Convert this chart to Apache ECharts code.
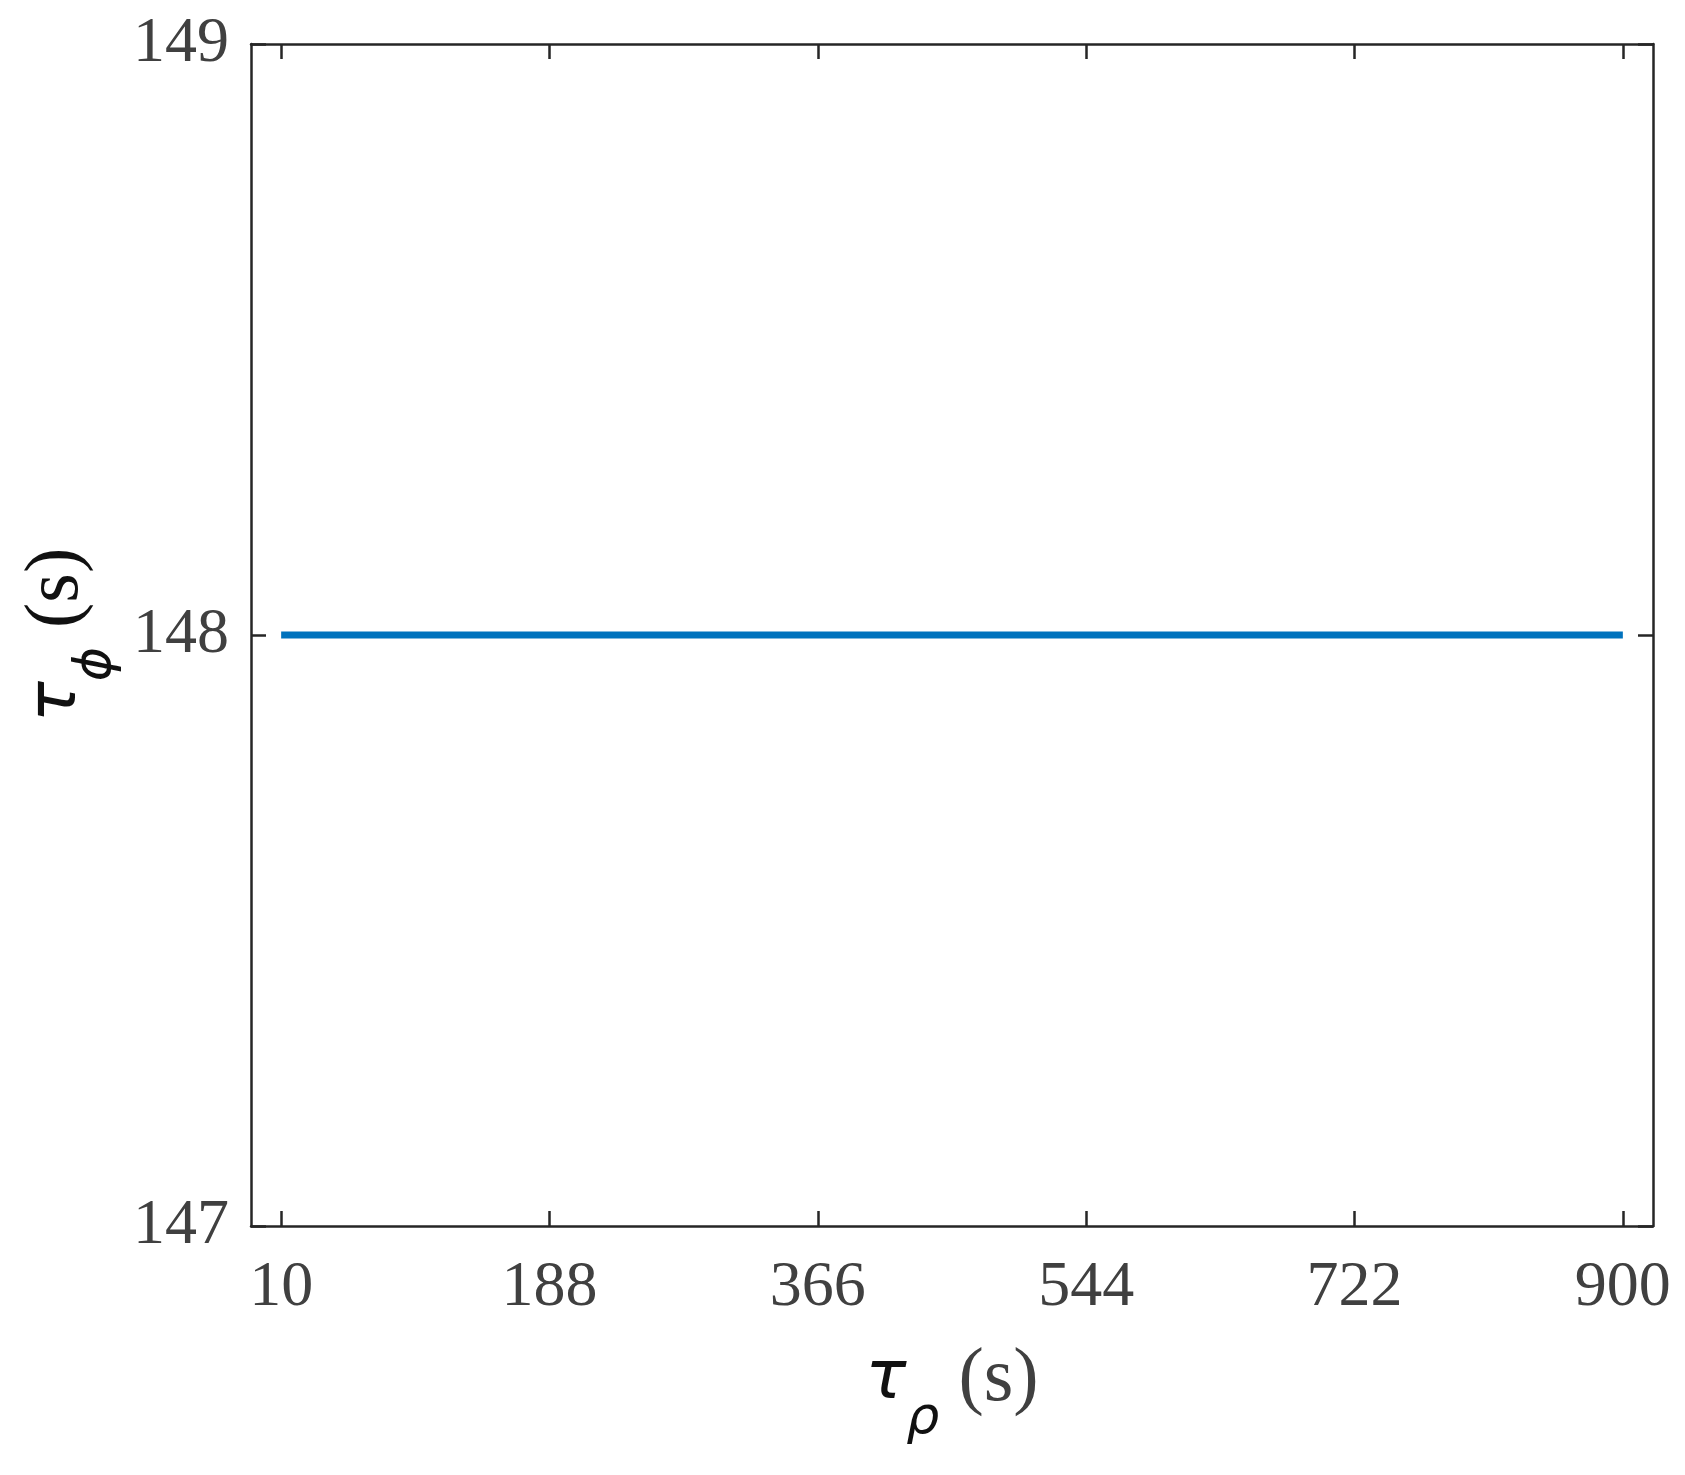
<!DOCTYPE html>
<html>
<head>
<meta charset="utf-8">
<script src="https://cdn.jsdelivr.net/npm/echarts@6/dist/echarts.min.js"></script>
<style>
  html, body { margin: 0; padding: 0; background: #fff; }
  #chart { width: 1685px; height: 1475px; }
</style>
</head>
<body>
<div id="chart"></div>
<script>
// 数据
const xTicks = [10, 188, 366, 544, 722, 900];
const yTicks = [147, 148, 149];
const tauRho = [10, 188, 366, 544, 722, 900];   // x 值
const tauPhi = [148, 148, 148, 148, 148, 148];  // y 值

const axisColor = '#262626';
const labelColor = '#404040';
const serif = "'Liberation Serif', 'Times New Roman', Times, serif";

// 轴名字 (rich text)
function nameRich(unitColor) {
    return {
        t: { fontFamily: 'DejaVu Sans', fontStyle: 'italic', fontSize: 68, color: '#111' },
        sub: { fontFamily: 'DejaVu Sans', fontStyle: 'italic', fontSize: 52, color: '#111', verticalAlign: 'bottom', padding: [78, 0, 0, 0] },
        u: { fontFamily: serif, fontSize: 76, color: unitColor }
    };
}

let myChart = echarts.init(document.getElementById('chart'));

let option = {
    backgroundColor: '#fff',
    animation: false,
    grid: {
        left: 251,
        right: 32,
        top: 44,
        bottom: 249,
        containLabel: false
    },
    xAxis: [
        {
            type: 'value',
            position: 'bottom',
            min: -10,
            max: 920,
            name: '{t|τ}{sub|ρ}{u| (s)}',
            nameLocation: 'middle',
            nameGap: 89,
            nameTextStyle: { rich: nameRich(labelColor) },
            axisLine: { show: true, onZero: false, lineStyle: { color: axisColor, width: 2.5 } },
            axisTick: { show: true, inside: true, length: 15, customValues: xTicks, lineStyle: { color: axisColor, width: 2.5 } },
            axisLabel: {
                customValues: xTicks,
                margin: 30,
                color: labelColor,
                fontFamily: serif,
                fontSize: 64
            },
            splitLine: { show: false }
        },
        { // 上边框
            type: 'value',
            position: 'top',
            min: -10,
            max: 920,
            axisLine: { show: true, onZero: false, lineStyle: { color: axisColor, width: 2.5 } },
            axisTick: { show: true, inside: true, length: 15, customValues: xTicks, lineStyle: { color: axisColor, width: 2.5 } },
            axisLabel: { show: false },
            splitLine: { show: false }
        }
    ],
    yAxis: [
        {
            type: 'value',
            position: 'left',
            min: 147,
            max: 149,
            interval: 1,
            name: '{t|τ}{sub|ϕ}{u| (s)}',
            nameLocation: 'middle',
            nameRotate: 90,
            nameGap: 128,
            nameTextStyle: { rich: nameRich('#111') },
            axisLine: { show: true, onZero: false, lineStyle: { color: axisColor, width: 2.5 } },
            axisTick: { show: true, inside: true, length: 15, lineStyle: { color: axisColor, width: 2.5 } },
            axisLabel: {
                customValues: yTicks,
                margin: 22,
                color: labelColor,
                fontFamily: serif,
                fontSize: 64
            },
            splitLine: { show: false }
        },
        { // 右边框
            type: 'value',
            position: 'right',
            min: 147,
            max: 149,
            interval: 1,
            axisLine: { show: true, onZero: false, lineStyle: { color: axisColor, width: 2.5 } },
            axisTick: { show: true, inside: true, length: 15, lineStyle: { color: axisColor, width: 2.5 } },
            axisLabel: { show: false },
            splitLine: { show: false }
        }
    ],
    series: [
        {
            type: 'line',
            xAxisIndex: 0,
            yAxisIndex: 0,
            data: tauRho.map((x, i) => [x, tauPhi[i]]),
            showSymbol: false,
            lineStyle: { color: '#0072BD', width: 7 },
            itemStyle: { color: '#0072BD' }
        }
    ]
};

myChart.setOption(option);
</script>
</body>
</html>
